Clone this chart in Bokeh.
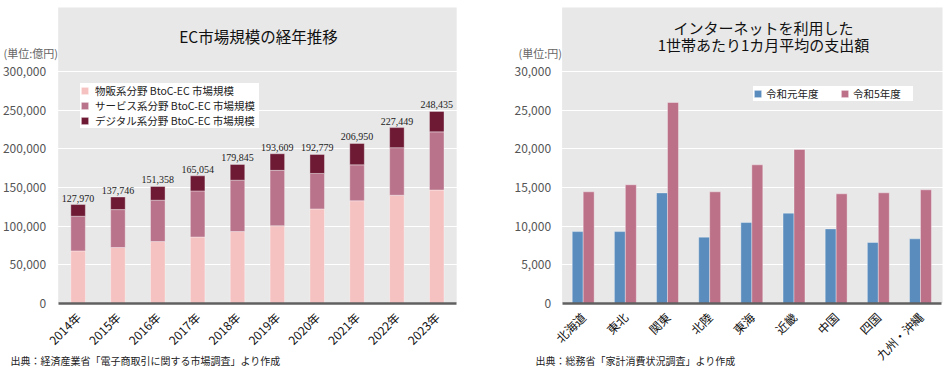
import math
from bokeh.plotting import figure
from bokeh.models import (ColumnDataSource, Range1d, FixedTicker, NumeralTickFormatter,
                          Legend, LegendItem, Label, LabelSet, LinearAxis, Grid, BoxAnnotation)
from bokeh.transform import dodge
from bokeh.embed import file_html
from bokeh.resources import INLINE

# ---------------- data ----------------
years = ["2014年", "2015年", "2016年", "2017年", "2018年",
         "2019年", "2020年", "2021年", "2022年", "2023年"]
butsuhan = [68043, 72398, 80043, 86008, 92992, 100515, 122333, 132865, 139997, 146760]
service = [44816, 49014, 53532, 59568, 66471, 71672, 45832, 46424, 61477, 75169]
digital = [15111, 16334, 17783, 19478, 20382, 21422, 24614, 27661, 25975, 26506]
totals = [127970, 137746, 151358, 165054, 179845, 193609, 192779, 206950, 227449, 248435]
left_series = ["物販系分野 BtoC-EC 市場規模", "サービス系分野 BtoC-EC 市場規模", "デジタル系分野 BtoC-EC 市場規模"]
left_ticks = [0, 50000, 100000, 150000, 200000, 250000, 300000]

regions = ["北海道", "東北", "関東", "北陸", "東海", "近畿", "中国", "四国", "九州・沖縄"]
reiwa1 = [9300, 9300, 14300, 8580, 10470, 11680, 9650, 7890, 8360]
reiwa5 = [14440, 15350, 25990, 14440, 17930, 19910, 14180, 14310, 14700]
right_series = ["令和元年度", "令和5年度"]
right_ticks = [0, 5000, 10000, 15000, 20000, 25000, 30000]

FONT = "Noto Sans CJK JP"
BG = "#e8e8e8"
C_B, C_S, C_D = "#f6c1c1", "#b9748b", "#6e1a35"
C_BLUE, C_PINK = "#5a8cbd", "#bc7189"
W, H = 948, 385

# one canvas holding both charts; each chart has its own pair of ranges
p = figure(width=W, height=H, output_backend="svg", toolbar_location=None,
           x_axis_type=None, y_axis_type=None,
           x_range=Range1d(-1.9473, 21.842), y_range=Range1d(-106034, 391810),
           min_border_left=0, min_border_right=0, min_border_top=0, min_border_bottom=0)
p.extra_x_ranges = {"x2": Range1d(-13.821, 8.6646)}
p.extra_y_ranges = {"y2": Range1d(-10603, 39181)}
p.background_fill_color = "white"
p.border_fill_color = "white"
p.outline_line_color = None

# gray panels
p.add_layout(BoxAnnotation(left=-0.5, right=9.5, bottom=0, top=382759, fill_color=BG,
                           fill_alpha=1, line_color=None, level="image"))
p.add_layout(BoxAnnotation(left=-0.5, right=8.5223, bottom=0, top=38276, fill_color=BG,
                           fill_alpha=1, line_color=None, level="image",
                           x_range_name="x2", y_range_name="y2"))
# white grid (same pixel rows for both charts, invisible on white)
p.add_layout(Grid(dimension=1, ticker=FixedTicker(ticks=left_ticks),
                  grid_line_color="white", grid_line_width=1.2))


def yaxis(xr, yr, ticks, standoff):
    ax = LinearAxis(x_range_name=xr, y_range_name=yr, fixed_location=-0.5,
                    ticker=FixedTicker(ticks=ticks), formatter=NumeralTickFormatter(format="0,0"),
                    axis_line_color=None, major_tick_line_color=None, minor_tick_line_color=None,
                    major_label_text_font=FONT, major_label_text_font_size="12px",
                    major_label_text_color="#555555", major_label_standoff=standoff)
    p.add_layout(ax, "left")


def xaxis(xr, yr, cats):
    ax = LinearAxis(x_range_name=xr, y_range_name=yr, fixed_location=0,
                    ticker=FixedTicker(ticks=list(range(len(cats)))),
                    major_label_overrides={i: c for i, c in enumerate(cats)},
                    bounds=(-0.5, len(cats) - 0.5),
                    axis_line_color="#606060", axis_line_width=2.5,
                    major_tick_line_color=None, minor_tick_line_color=None,
                    major_label_orientation=math.pi / 4,
                    major_label_text_font=FONT, major_label_text_font_size="12px",
                    major_label_text_color="#111111", major_label_standoff=5)
    p.add_layout(ax, "below")


def label(x, y, text, size, color="#222222", align="left"):
    p.add_layout(Label(x=x, y=y, x_units="screen", y_units="screen", text=text,
                       text_font=FONT, text_font_size=size, text_color=color,
                       text_align=align, text_baseline="middle"))


# ---------------- left chart ----------------
src1 = ColumnDataSource(dict(pos=list(range(len(years))), b=butsuhan, s=service, d=digital,
                             total=totals, lab=[f"{v:,}" for v in totals]))
rs = p.vbar_stack(["b", "s", "d"], x="pos", width=0.365, color=[C_B, C_S, C_D],
                  line_color="white", line_alpha=0.35, line_width=1, source=src1)
p.add_layout(LabelSet(x="pos", y="total", text="lab", source=src1, y_offset=3,
                      text_align="center", text_baseline="bottom", text_font=FONT,
                      text_font_size="10px", text_color="#222222"))
yaxis("default", "default", left_ticks, 6)
xaxis("default", "default", years)
p.add_layout(Legend(items=[LegendItem(label=left_series[i], renderers=[rs[i]]) for i in range(3)],
                    location=(80, H - 128), background_fill_color="white", background_fill_alpha=1,
                    border_line_color=None, padding=4, spacing=0, margin=0,
                    label_text_font=FONT, label_text_font_size="10.5px", label_text_color="#222222",
                    label_height=15, label_width=164, glyph_width=9, glyph_height=9,
                    label_standoff=6))
label(258, H - 35, "EC市場規模の経年推移", "15.5px", "#111111", "center")
label(3, H - 52, "(単位:億円)", "11px", "#666666")
label(10, H - 360, "出典：経済産業省「電子商取引に関する市場調査」より作成", "10px", "#222222")

# ---------------- right chart ----------------
src2 = ColumnDataSource(dict(pos=list(range(len(regions))), r1=reiwa1, r5=reiwa5))
b1 = p.vbar(x=dodge("pos", -0.13), top="r1", width=0.26, source=src2, fill_color=C_BLUE,
            line_color="white", line_alpha=0.35, x_range_name="x2", y_range_name="y2")
b5 = p.vbar(x=dodge("pos", 0.13), top="r5", width=0.26, source=src2, fill_color=C_PINK,
            line_color="white", line_alpha=0.35, x_range_name="x2", y_range_name="y2")
yaxis("x2", "y2", right_ticks, 5)
xaxis("x2", "y2", regions)
p.add_layout(Legend(items=[LegendItem(label=right_series[0], renderers=[b1]),
                           LegendItem(label=right_series[1], renderers=[b5])],
                    orientation="horizontal", location=(753, H - 101),
                    background_fill_color="white", background_fill_alpha=1,
                    border_line_color=None, padding=6, spacing=14, margin=0,
                    label_text_font=FONT, label_text_font_size="10.5px", label_text_color="#222222",
                    label_height=12, label_width=60, glyph_width=9, glyph_height=9,
                    label_standoff=4))
label(763, H - 26.7, "インターネットを利用した", "15px", "#111111", "center")
label(763, H - 44.3, "1世帯あたり1カ月平均の支出額", "15px", "#111111", "center")
label(518, H - 52, "(単位:円)", "11px", "#666666")
label(535, H - 360, "出典：総務省「家計消費状況調査」より作成", "10px", "#222222")

open("out.html", "w").write(file_html(p, INLINE))
